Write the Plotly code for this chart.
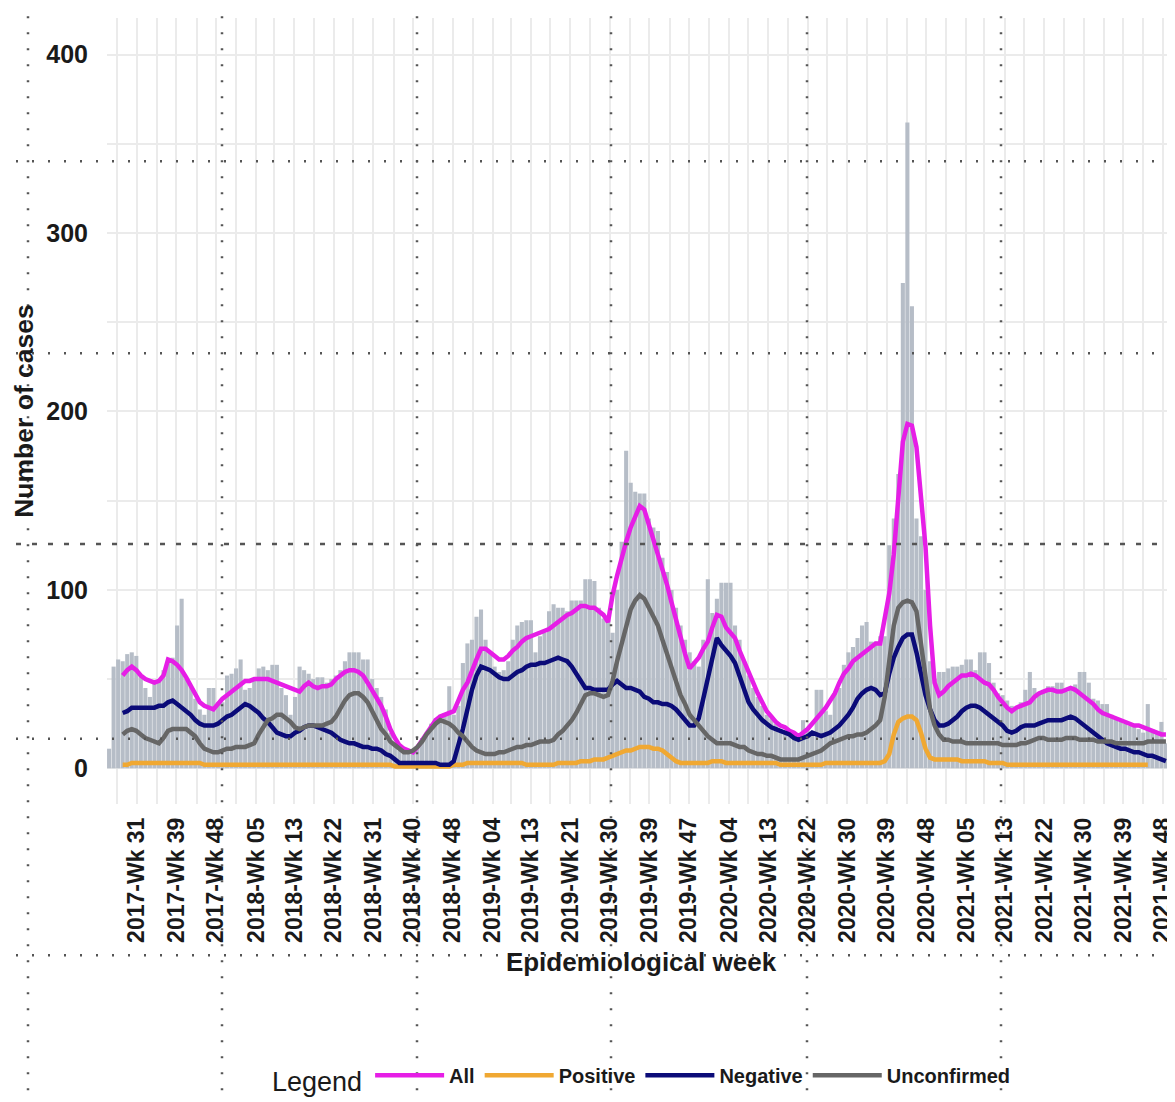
import plotly.graph_objects as go
import pandas as pd

# ---------------- data ----------------
FIRST_WEEK = "2017-06-19"          # first weekly bar
LINE_OFFSET = 3                    # smoothed lines start at the 4th week

cases = [
    11, 57, 61, 60, 64, 65, 63, 52, 45, 40,
    48, 50, 55, 59, 62, 80, 95, 50, 46, 39,
    33, 30, 45, 45, 37, 37, 52, 53, 56, 61,
    44, 45, 50, 56, 57, 55, 58, 58, 45, 41,
    30, 40, 57, 55, 53, 50, 51, 51, 48, 50,
    52, 55, 60, 65, 65, 65, 61, 61, 50, 45,
    40, 33, 20, 13, 10, 9, 9, 10, 12, 17,
    20, 25, 28, 30, 31, 46, 30, 35, 59, 70,
    72, 85, 89, 72, 65, 57, 54, 55, 60, 72,
    80, 82, 83, 83, 65, 74, 76, 88, 92, 90,
    90, 88, 94, 94, 94, 106, 106, 105, 90, 84,
    83, 76, 100, 127, 178, 160, 155, 154, 154, 140,
    135, 133, 118, 110, 100, 90, 80, 72, 65, 60,
    57, 72, 106, 87, 95, 104, 104, 104, 80, 72,
    60, 52, 45, 40, 35, 30, 28, 25, 22, 20,
    20, 19, 18, 27, 21, 20, 44, 44, 32, 30,
    42, 45, 58, 65, 68, 73, 80, 82, 71, 71,
    74, 74, 125, 140, 165, 272, 362, 259, 140, 130,
    100, 60, 50, 54, 54, 56, 57, 57, 58, 61,
    61, 55, 65, 65, 59, 48, 42, 41, 38, 35,
    34, 37, 44, 54, 45, 42, 44, 46, 46, 48,
    48, 43, 44, 47, 54, 54, 48, 39, 38, 36,
    36, 30, 28, 26, 25, 24, 24, 22, 20, 36,
    22, 20, 26, 14, 12,
]

all_line = [
    52, 55, 57, 55, 52, 50, 49, 48, 49, 52,
    61, 60, 58, 55, 51, 46, 42, 37, 35, 34,
    33, 36, 39, 41, 43, 45, 47, 49, 49, 50,
    50, 50, 50, 49, 48, 47, 46, 45, 44, 43,
    46, 48, 46, 45, 46, 46, 47, 50, 52, 54,
    55, 55, 54, 52, 48, 44, 40, 35, 29, 22,
    17, 13, 11, 10, 9, 12, 16, 20, 23, 27,
    29, 30, 31, 32, 38, 44, 48, 55, 61, 67,
    67, 65, 63, 61, 61, 63, 66, 68, 71, 73,
    74, 75, 76, 77, 78, 80, 82, 84, 86, 87,
    89, 91, 91, 90, 90, 88, 86, 82, 97, 108,
    118, 127, 135, 141, 147, 145, 137, 129, 121, 113,
    103, 93, 83, 73, 64, 56, 59, 62, 67, 71,
    79, 86, 85, 79, 76, 73, 66, 60, 53, 47,
    42, 37, 32, 29, 26, 24, 23, 21, 20, 18,
    20, 22, 25, 28, 31, 34, 38, 42, 48, 53,
    56, 60, 62, 64, 66, 68, 70, 70, 85, 98,
    120, 155, 183, 193, 192, 180, 150, 124, 80, 48,
    41, 43, 46, 48, 50, 52, 52, 53, 52, 50,
    48, 47, 44, 40, 37, 34, 32, 34, 35, 36,
    37, 40, 42, 43, 44, 44, 43, 43, 44, 45,
    44, 42, 40, 38, 36, 33, 31, 30, 29, 28,
    27, 26, 25, 24, 24, 23, 22, 21, 20, 19,
    19,
]

negative_line = [
    31, 32, 34, 34, 34, 34, 34, 34, 35, 35,
    37, 38, 36, 34, 32, 30, 27, 25, 24, 24,
    24, 25, 27, 29, 30, 32, 34, 36, 35, 33,
    31, 28, 26, 23, 20, 19, 18, 18, 20, 21,
    23, 24, 24, 23, 22, 21, 20, 18, 16, 15,
    14, 14, 13, 12, 12, 11, 11, 10, 8, 7,
    5, 3, 3, 3, 3, 3, 3, 3, 3, 3,
    2, 2, 2, 4, 12, 22, 33, 44, 52, 57,
    56, 55, 53, 51, 50, 50, 52, 54, 55, 57,
    58, 58, 59, 59, 60, 61, 62, 61, 60, 57,
    53, 48, 45, 45, 44, 44, 44, 44, 47, 49,
    47, 45, 45, 44, 43, 40, 39, 37, 37, 36,
    36, 35, 33, 30, 27, 24, 24, 28, 39, 50,
    62, 73, 69, 66, 63, 59, 51, 44, 37, 33,
    30, 27, 25, 23, 22, 21, 20, 19, 17, 16,
    17, 18, 20, 19, 18, 19, 20, 22, 24, 27,
    30, 34, 39, 42, 44, 45, 44, 41, 42, 53,
    62, 68, 73, 75, 75, 65, 52, 41, 33, 27,
    24, 24, 25, 27, 29, 32, 34, 35, 35, 34,
    32, 30, 28, 26, 24, 21, 20, 21, 23, 24,
    24, 24, 25, 26, 27, 27, 27, 27, 28, 29,
    28, 26, 24, 22, 20, 18, 16, 14, 13, 12,
    11, 11, 10, 9, 9, 8, 7, 7, 6, 5,
    4,
]

unconfirmed_line = [
    19, 21, 22, 21, 19, 17, 16, 15, 14, 17,
    21, 22, 22, 22, 22, 20, 18, 14, 11, 10,
    9, 9, 10, 11, 11, 12, 12, 12, 13, 14,
    19, 23, 27, 28, 30, 30, 28, 26, 23, 22,
    23, 24, 24, 24, 24, 25, 26, 29, 34, 38,
    41, 42, 42, 40, 37, 32, 28, 22, 19, 15,
    13, 11, 9, 9, 10, 12, 15, 19, 22, 25,
    27, 26, 25, 23, 20, 18, 15, 12, 10, 9,
    8, 8, 8, 9, 9, 10, 11, 12, 12, 13,
    13, 14, 15, 15, 15, 16, 19, 21, 24, 27,
    31, 36, 41, 42, 42, 41, 40, 41, 49, 60,
    70, 80, 89, 94, 97, 95, 90, 85, 80, 72,
    64, 56, 48, 41, 36, 30, 27, 24, 21, 18,
    16, 14, 14, 14, 14, 13, 12, 12, 10, 9,
    8, 8, 7, 7, 6, 5, 5, 5, 5, 5,
    6, 7, 8, 9, 10, 12, 14, 15, 16, 17,
    18, 18, 19, 19, 20, 22, 24, 27, 40, 60,
    80, 90, 93, 94, 93, 88, 70, 50, 33, 24,
    19, 16, 16, 15, 15, 15, 14, 14, 14, 14,
    14, 14, 14, 14, 13, 13, 13, 13, 14, 14,
    15, 16, 17, 17, 16, 16, 16, 16, 17, 17,
    17, 16, 16, 16, 16, 15, 15, 15, 15, 14,
    14, 14, 14, 14, 14, 14, 15, 15, 15, 15,
    15,
]

positive_line = [
    2, 2, 3, 3, 3, 3, 3, 3, 3, 3,
    3, 3, 3, 3, 3, 3, 3, 3, 2, 2,
    2, 2, 2, 2, 2, 2, 2, 2, 2, 2,
    2, 2, 2, 2, 2, 2, 2, 2, 2, 2,
    2, 2, 2, 2, 2, 2, 2, 2, 2, 2,
    2, 2, 2, 2, 2, 2, 2, 2, 2, 2,
    1, 1, 1, 1, 1, 1, 1, 1, 1, 1,
    1, 1, 1, 2, 2, 2, 3, 3, 3, 3,
    3, 3, 3, 3, 3, 3, 3, 3, 3, 2,
    2, 2, 2, 2, 2, 2, 3, 3, 3, 3,
    3, 4, 4, 4, 5, 5, 5, 6, 7, 8,
    9, 10, 10, 11, 12, 12, 12, 11, 11, 10,
    8, 6, 4, 3, 3, 3, 3, 3, 3, 3,
    4, 4, 4, 3, 3, 3, 3, 3, 3, 3,
    3, 3, 3, 3, 3, 2, 2, 2, 2, 2,
    2, 2, 2, 2, 2, 3, 3, 3, 3, 3,
    3, 3, 3, 3, 3, 3, 3, 3, 4, 8,
    19, 26, 28, 29, 29, 27, 20, 11, 6, 5,
    5, 5, 5, 5, 5, 4, 4, 4, 4, 4,
    4, 3, 3, 3, 3, 2, 2, 2, 2, 2,
    2, 2, 2, 2, 2, 2, 2, 2, 2, 2,
    2, 2, 2, 2, 2, 2, 2, 2, 2, 2,
    2, 2, 2, 2, 2, 2, 2,
]

tick_dates = [
    "2017-08-01", "2017-10-01", "2017-12-01", "2018-02-01", "2018-04-01",
    "2018-06-01", "2018-08-01", "2018-10-01", "2018-12-01", "2019-02-01",
    "2019-04-01", "2019-06-01", "2019-08-01", "2019-10-01", "2019-12-01",
    "2020-02-01", "2020-04-01", "2020-06-01", "2020-08-01", "2020-10-01",
    "2020-12-01", "2021-02-01", "2021-04-01", "2021-06-01", "2021-08-01",
    "2021-10-01", "2021-12-01",
]
tick_labels = [
    "2017-Wk 31", "2017-Wk 39", "2017-Wk 48", "2018-Wk 05", "2018-Wk 13",
    "2018-Wk 22", "2018-Wk 31", "2018-Wk 40", "2018-Wk 48", "2019-Wk 04",
    "2019-Wk 13", "2019-Wk 21", "2019-Wk 30", "2019-Wk 39", "2019-Wk 47",
    "2020-Wk 04", "2020-Wk 13", "2020-Wk 22", "2020-Wk 30", "2020-Wk 39",
    "2020-Wk 48", "2021-Wk 05", "2021-Wk 13", "2021-Wk 22", "2021-Wk 30",
    "2021-Wk 39", "2021-Wk 48",
]
y_ticks = [0, 100, 200, 300, 400]

series = [
    ("All", all_line, "#e61ee6"),
    ("Positive", positive_line, "#f0a832"),
    ("Negative", negative_line, "#0b0b78"),
    ("Unconfirmed", unconfirmed_line, "#666666"),
]

# ---------------- figure ----------------
FONT = "Liberation Sans, Arial, Helvetica, sans-serif"
OFF = 8                      # the page body margin shifts the figure by 8 px
W, H = 1175 - OFF, 1102 - OFF
L, R, T, B = 107 - OFF, 0, 18 - OFF, 289

weeks = pd.date_range(FIRST_WEEK, periods=len(cases), freq="7D")

fig = go.Figure()
fig.add_trace(go.Bar(x=weeks, y=cases, marker=dict(color="#b6bdc7", line=dict(width=0)),
                     showlegend=False, hoverinfo="x+y"))
for name, vals, col in series:
    fig.add_trace(go.Scatter(x=weeks[LINE_OFFSET:LINE_OFFSET + len(vals)], y=vals,
                             mode="lines", name=name,
                             line=dict(color=col, width=4.5)))

# helpers: screen pixel (as in the reference image) -> paper coordinates
pw, ph = W - L - R, H - T - B
def xp(px):
    return (px - OFF - L) / pw
def yp(py):
    return (H - B - (py - OFF)) / ph

# decorative dotted overlay grid seen in the reference image
shapes = []
for vx in [28, 222, 417, 611, 807, 1001]:
    shapes.append(dict(type="line", xref="paper", yref="paper", layer="above",
                       x0=xp(vx), x1=xp(vx), y0=yp(0), y1=yp(1110),
                       line=dict(color="#555555", width=2.5, dash="2px,14px")))
for hy, dash in [(163, "2px,14px"), (357, "2px,14px"), (550, "5px,11px"),
                 (747, "2px,14px"), (966, "2px,14px")]:
    shapes.append(dict(type="line", xref="paper", yref="paper", layer="above",
                       x0=xp(0), x1=xp(1180), y0=yp(hy), y1=yp(hy),
                       line=dict(color="#555555", width=2.5, dash=dash)))

fig.update_layout(
    width=W, height=H, autosize=False,
    margin=dict(l=L, r=R, t=T, b=B, pad=0),
    paper_bgcolor="white", plot_bgcolor="white",
    font=dict(family=FONT, color="#1a1a1a"),
    bargap=0.1,
    shapes=shapes,
    legend=dict(orientation="h", x=xp(270), y=yp(1091), xanchor="left", yanchor="middle",
                title=dict(text="Legend", side="left",
                           font=dict(size=27, weight="normal", color="#1a1a1a")),
                font=dict(size=20, weight="bold", color="#1a1a1a"),
                itemwidth=69, bgcolor="rgba(0,0,0,0)"),
    xaxis=dict(
        type="date",
        range=["2017-06-15 19:00", "2021-12-20"],
        tickmode="array", tickvals=tick_dates, ticktext=tick_labels,
        tickangle=-90, tickfont=dict(size=23, weight="bold", color="#1a1a1a"),
        ticks="", ticklabelstandoff=8, ticklabeloverflow="allow",
        showgrid=True, gridcolor="#ebebeb", gridwidth=2,
        minor=dict(dtick="M1", tick0="2017-01-01", showgrid=True,
                   gridcolor="#ebebeb", gridwidth=2),
        showline=False, zeroline=False,
        title=dict(text="Epidemiological week", standoff=10,
                   font=dict(size=26, weight="bold", color="#1a1a1a")),
        automargin=False,
    ),
    yaxis=dict(
        range=[-20, 420.5],
        tickmode="array", tickvals=y_ticks,
        tickfont=dict(size=25, weight="bold", color="#1a1a1a"),
        ticks="", ticklabelstandoff=18,
        showgrid=True, gridcolor="#ebebeb", gridwidth=2,
        minor=dict(tickvals=[50, 150, 250, 350], showgrid=True,
                   gridcolor="#ebebeb", gridwidth=1.5),
        showline=False, zeroline=False,
        title=dict(text="Number of cases", standoff=5,
                   font=dict(size=26.5, weight="bold", color="#1a1a1a")),
        automargin=False,
    ),
)

fig.write_html("out.html")
